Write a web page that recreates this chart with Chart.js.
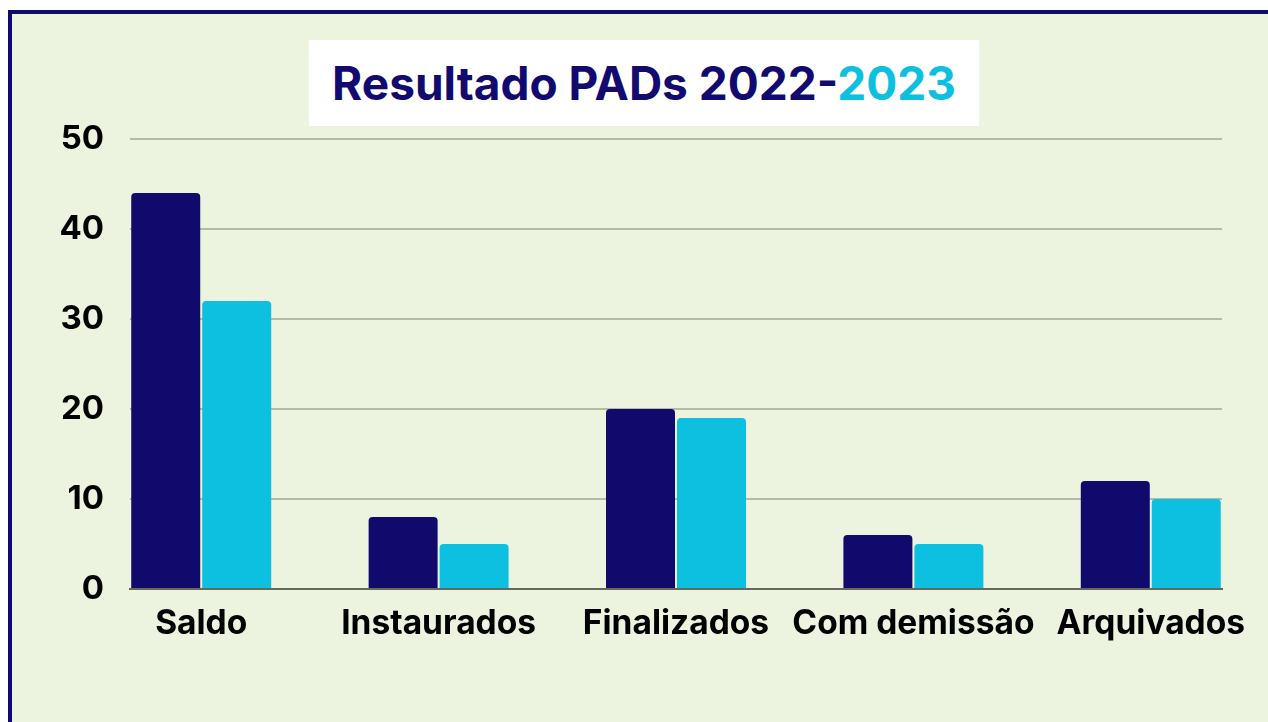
<!DOCTYPE html>
<html>
<head>
<meta charset="utf-8">
<script src="https://cdn.jsdelivr.net/npm/chart.js@4"></script>
<style>
  html, body { margin: 0; padding: 0; background: #fff; overflow: hidden; }
  #frame {
    position: absolute; left: 8px; top: 10px; width: 1300px; height: 760px;
    border-left: 4px solid #110a6d; border-top: 4px solid #110a6d;
    background: #ecf3df;
  }
  #wrap { position: absolute; left: 0; top: 0; width: 1268px; height: 722px; }
  #titleBox {
    position: absolute; left: 309px; top: 40px; width: 670px; height: 86px;
    background: #ffffff; display: flex; align-items: center; justify-content: center;
    font-family: Inter, "Noto Sans", sans-serif; font-weight: 700; font-size: 46px;
    color: #120a6e; white-space: nowrap;
  }
  #titleBox .hl { color: #0dc0df; }
</style>
</head>
<body>
<div id="frame"></div>
<div id="wrap"><canvas id="myChart" width="1268" height="722"></canvas></div>
<div id="titleBox"><span>Resultado PADs 2022-<span class="hl">2023</span></span></div>
<script>
// categorias e valores
var categorias = ['Saldo', 'Instaurados', 'Finalizados', 'Com demissão', 'Arquivados']
var valores2022 = [44, 8, 20, 6, 12]
var valores2023 = [32, 5, 19, 5, 10]
var yTicks = [0, 10, 20, 30, 40, 50]

function pontos(vals) {
    return vals.map(function (v, i) { return { x: i, y: v } })
}

const ctx = document.getElementById('myChart').getContext('2d');
const myChart = new Chart(ctx, {
    type: 'bar',
    data: {
        datasets: [{
            label: '2022',
            data: pontos(valores2022),
            backgroundColor: '#110a6d',
            borderRadius: 4,
            borderSkipped: 'start',
            categoryPercentage: 0.598,
            barPercentage: 0.972
        }, {
            label: '2023',
            data: pontos(valores2023),
            backgroundColor: '#0dc0df',
            borderRadius: 4,
            borderSkipped: 'start',
            categoryPercentage: 0.598,
            barPercentage: 0.972
        }]
    },
    options: {
        responsive: false,
        animation: false,
        layout: { padding: { top: 139, right: 46, bottom: 0, left: 0 } },
        plugins: { legend: { display: false }, tooltip: { enabled: false } },
        scales: {
            x: {
                type: 'linear',
                min: -0.3,
                max: 4.3,
                offset: false,
                grid: { display: false, drawTicks: false },
                border: { display: true, color: '#65695a', width: 2 },
                afterBuildTicks: function (scale) {
                    scale.ticks = categorias.map(function (_, i) { return { value: i } })
                },
                afterFit: function (scale) { scale.height = 133 },
                ticks: {
                    padding: 15,
                    color: '#000',
                    maxRotation: 0,
                    autoSkip: false,
                    font: { family: 'Inter', weight: 'bold', size: 33.5 },
                    callback: function (v) { return categorias[v] }
                }
            },
            y: {
                min: 0,
                max: 50,
                afterBuildTicks: function (scale) {
                    scale.ticks = yTicks.map(function (v) { return { value: v } })
                },
                afterFit: function (scale) { scale.width = 130 },
                grid: {
                    color: function (c) { return c.tick && c.tick.value === 0 ? 'rgba(0,0,0,0)' : '#b4bba5' },
                    lineWidth: 2,
                    drawTicks: false
                },
                border: { display: false },
                ticks: {
                    padding: 26,
                    color: '#000',
                    font: { family: 'Inter', weight: 'bold', size: 33 }
                }
            }
        }
    }
});
</script>
</body>
</html>
